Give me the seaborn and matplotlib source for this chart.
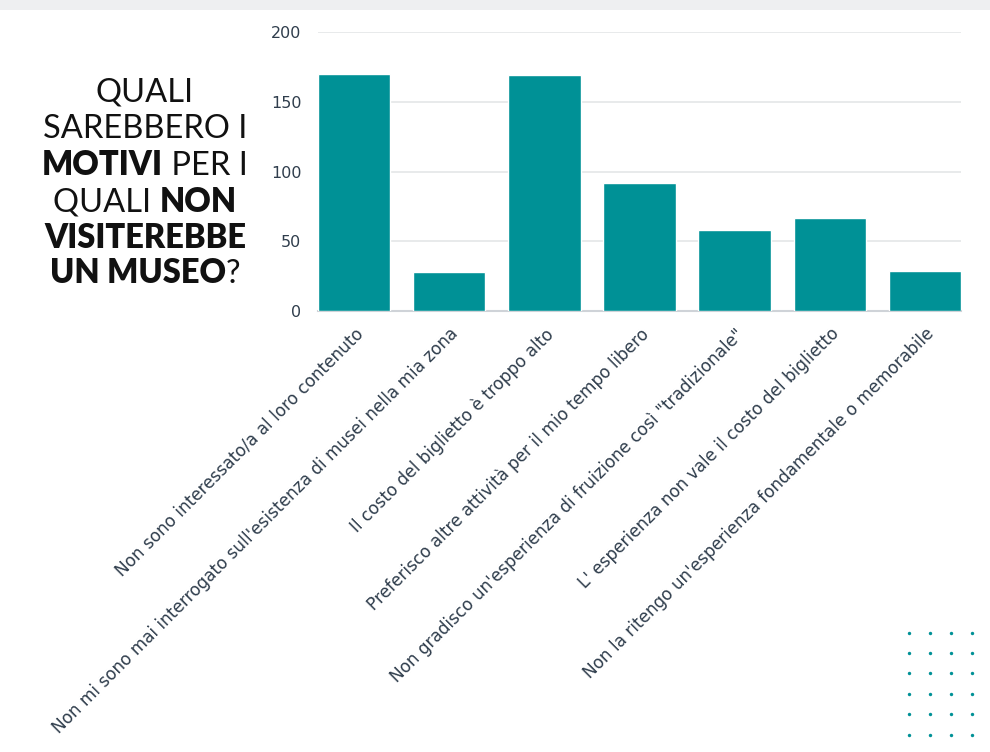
import matplotlib
matplotlib.use("Agg")
import matplotlib.pyplot as plt
import seaborn as sns
import pandas as pd
import numpy as np
from matplotlib.patches import Rectangle

# Data
motivi = [
    "Non sono interessato/a al loro contenuto",
    "Non mi sono mai interrogato sull'esistenza di musei nella mia zona",
    "Il costo del biglietto è troppo alto",
    "Preferisco altre attività per il mio tempo libero",
    "Non gradisco un'esperienza di fruizione così \"tradizionale\"",
    "L' esperienza non vale il costo del biglietto",
    "Non la ritengo un'esperienza fondamentale o memorabile",
]
risposte = [170, 28, 169, 92, 58, 67, 29]
y_ticks = [0, 50, 100, 150, 200]

# Title lines: (text, bold)
title_lines = [
    [("QUALI", False)],
    [("SAREBBERO I", False)],
    [("MOTIVI", True), (" PER I", False)],
    [("QUALI ", False), ("NON", True)],
    [("VISITEREBBE", True)],
    [("UN MUSEO", True), ("?", False)],
]

TEAL = "#009196"
SLATE = "#2f3d4c"

df = pd.DataFrame({"motivo": motivi, "n": risposte})

sns.set_theme(style="white")
plt.rcParams["font.family"] = ["DejaVu Sans"]

W, H = 990, 752
fig = plt.figure(figsize=(W / 100, H / 100), dpi=100)
fig.patch.set_facecolor("white")

# light strip along the top edge
fig.patches.append(Rectangle((0, 1 - 10 / H), 1, 10 / H, transform=fig.transFigure,
                             facecolor="#eeeff1", edgecolor="none", zorder=0))

ax = fig.add_axes([318 / W, 1 - 311 / H, (961 - 318) / W, (311 - 32) / H])
sns.barplot(data=df, x="motivo", y="n", color=TEAL, width=0.76, saturation=1, ax=ax,
            zorder=3)

ax.set_xlim(-0.38, len(motivi) - 1 + 0.38)
ax.set_ylim(0, 200)
ax.set_yticks(y_ticks)
ax.set_xlabel("")
ax.set_ylabel("")
ax.grid(axis="y", color="#e4e6e8", linewidth=1.2, zorder=0)
ax.set_axisbelow(True)
for s in ["top", "right", "left"]:
    ax.spines[s].set_visible(False)
ax.spines["bottom"].set_color("#cfd3d8")
ax.spines["bottom"].set_linewidth(1.5)
ax.tick_params(axis="y", length=0, pad=12, labelsize=11.5, labelcolor=SLATE)
ax.tick_params(axis="x", length=0, pad=10, labelsize=12.2, labelcolor=SLATE)
plt.setp(ax.get_xticklabels(), rotation=45, ha="right", va="top", rotation_mode="anchor")

# Title with mixed weights, centred around x=145px
fig.canvas.draw()
renderer = fig.canvas.get_renderer()
cx = 145
fs = 23.5
baselines = [102, 138, 175, 212, 248, 283]
title_font = ["Lato", "DejaVu Sans"]
for parts, yb in zip(title_lines, baselines):
    widths = []
    for txt, bold in parts:
        t = fig.text(0, 0, txt, fontsize=fs, family=title_font,
                     fontweight="heavy" if bold else "normal")
        widths.append(t.get_window_extent(renderer).width)
        t.remove()
    x = cx - sum(widths) / 2
    for (txt, bold), w in zip(parts, widths):
        fig.text(x / W, 1 - yb / H, txt, fontsize=fs, color="#111111", family=title_font,
                 fontweight="heavy" if bold else "normal", va="baseline", ha="left")
        x += w

# dotted decoration bottom right
dax = fig.add_axes([0, 0, 1, 1], zorder=-1)
dax.set_xlim(0, W)
dax.set_ylim(H, 0)
dax.axis("off")
gx, gy = np.meshgrid([909, 930, 951, 972], [633, 653, 673, 694, 714, 735])
dax.scatter(gx.ravel(), gy.ravel(), s=6, color=TEAL, linewidths=0)

fig.savefig("out.png", dpi=100)
